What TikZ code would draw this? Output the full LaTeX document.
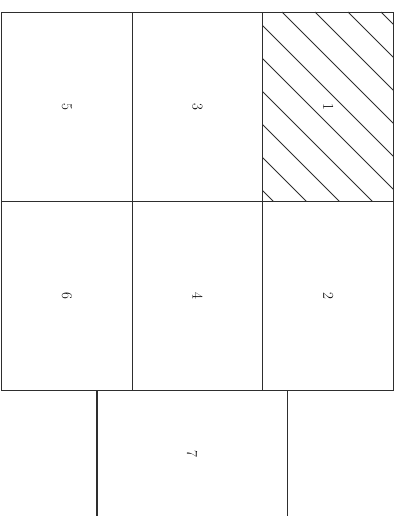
\documentclass[tikz,border=0pt]{standalone}
\usepackage{graphicx}
\definecolor{lc}{HTML}{2E2E2E}
\begin{document}
\begin{tikzpicture}[x=1pt,y=-1pt]
\tikzset{
  cell/.style={draw=lc, line width=1.1pt, minimum width=130.67pt, minimum height=189pt,
    inner sep=0pt, anchor=north west, font=\fontsize{15}{18}\selectfont, text=black},
  hatchline/.style={draw=lc, line width=1pt},
  sideline/.style={draw=lc, line width=1.1pt}
}
\useasboundingbox (0,0) rectangle (399,516);
% hatching of cell 1
\begin{scope}
  \clip (262.33,12) rectangle (393,201);
  \foreach \k in {-6,...,3}
    \draw[hatchline] (282+33*\k,12) -- ++(260,260);
\end{scope}
\node[cell] (c5) at (1,12) {\rotatebox{-90}{5}};
\node[cell] (c3) at (131.67,12) {\rotatebox{-90}{3}};
\node[cell] (c1) at (262.33,12) {\rotatebox{-90}{1}};
\node[cell] (c6) at (1,201) {\rotatebox{-90}{6}};
\node[cell] (c4) at (131.67,201) {\rotatebox{-90}{4}};
\node[cell] (c2) at (262.33,201) {\rotatebox{-90}{2}};
\node[cell, draw=none, minimum width=189pt, minimum height=126pt] (c7) at (97,390) {\rotatebox{-90}{7}};
\draw[sideline] (c7.north west) -- (c7.south west);
\draw[sideline] (c7.north east) -- (c7.south east);
\end{tikzpicture}
\end{document}
